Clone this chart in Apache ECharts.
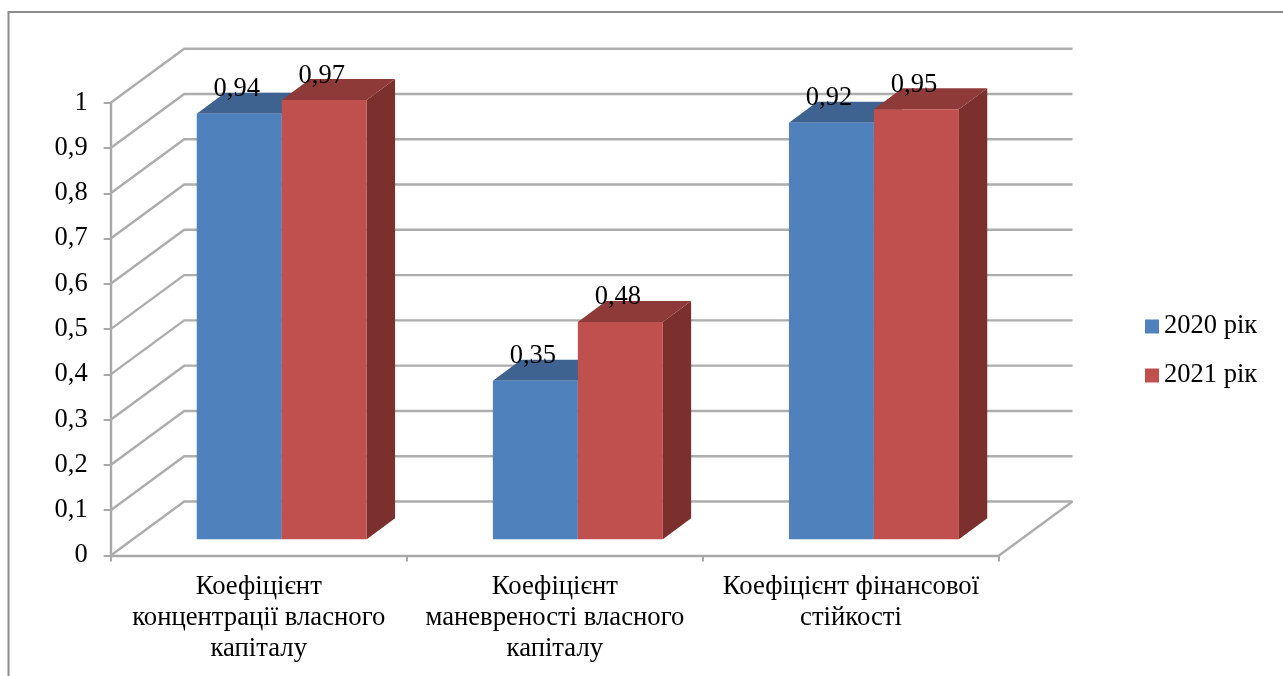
<!DOCTYPE html>
<html>
<head>
<meta charset="utf-8">
<style>html,body{margin:0;padding:0;background:#fff;overflow:hidden}#c{width:1283px;height:676px}</style>
<script src="https://cdn.jsdelivr.net/npm/echarts@6/dist/echarts.min.js"></script>
</head>
<body>
<div id="c"></div>
<script>
const categories = ['Коефіцієнт\nконцентрації власного\nкапіталу', 'Коефіцієнт\nманевреності власного\nкапіталу', 'Коефіцієнт фінансової\nстійкості'];
const seriesNames = ['2020 рік', '2021 рік'];
const values2020 = [0.94, 0.35, 0.92];
const values2021 = [0.97, 0.48, 0.95];
const wallTicks = [0, 0.1, 0.2, 0.3, 0.4, 0.5, 0.6, 0.7, 0.8, 0.9, 1];

const FONT = '"Liberation Serif","Times New Roman",serif';
const FS = 26.5;
const TEXT = '#000000';
const GRID = '#adadad';
const AXIS = '#a8a8a8';
const DEPTH_X = 73.5, DEPTH_Y = 54;
const BAR_DX = 23, BAR_DY = 16.2, BAR_W = 85, BAR_SIDE_X = 28.3, BAR_SIDE_Y = 21;
const comma = v => String(v).replace('.', ',');

function renderWall(params, api) {
  const r = params.coordSys;
  const y = api.coord([0, api.value(1)])[1];
  const left = r.x, right = r.x + r.width;
  const children = [{
    type: 'polyline',
    shape: { points: [[left, y], [left + DEPTH_X, y - DEPTH_Y], [right + DEPTH_X, y - DEPTH_Y]] },
    style: { stroke: GRID, lineWidth: 2.4, fill: null }
  }];
  if (api.value(1) === 0) {
    children.push({
      type: 'line',
      shape: { x1: right, y1: y, x2: right + DEPTH_X, y2: y - DEPTH_Y },
      style: { stroke: GRID, lineWidth: 2.4 }
    });
  }
  return { type: 'group', children };
}

function makeBarRenderer(slot, front, top, side) {
  return function (params, api) {
    const p = api.coord([api.value(0), api.value(1)]);
    const base = api.coord([api.value(0), 0]);
    const x0 = p[0] + BAR_DX + (slot - 1) * BAR_W;
    const x1 = x0 + BAR_W;
    const yt = p[1] - BAR_DY, yb = base[1] - BAR_DY;
    return {
      type: 'group',
      children: [
        { type: 'polygon', shape: { points: [[x1, yt], [x1 + BAR_SIDE_X, yt - BAR_SIDE_Y], [x1 + BAR_SIDE_X, yb - BAR_SIDE_Y], [x1, yb]] }, style: { fill: side } },
        { type: 'polygon', shape: { points: [[x0, yt], [x0 + BAR_SIDE_X, yt - BAR_SIDE_Y], [x1 + BAR_SIDE_X, yt - BAR_SIDE_Y], [x1, yt]] }, style: { fill: top } },
        { type: 'rect', shape: { x: x0, y: yt, width: BAR_W, height: yb - yt }, style: { fill: front } },
        { type: 'text', z2: 100, style: { text: comma(api.value(1)), x: (x0 + x1) / 2 - 2.5, y: yt - 24.5, align: 'center', verticalAlign: 'middle', fill: TEXT, font: FS + 'px ' + FONT } }
      ]
    };
  };
}

const chart = echarts.init(document.getElementById('c'), null, { renderer: 'canvas', width: 1283, height: 676 });
chart.setOption({
  animation: false,
  backgroundColor: '#ffffff',
  graphic: [{
    type: 'polyline', silent: true, z: -1,
    shape: { points: [[8.5, 676], [8.5, 12], [1283, 12]] },
    style: { stroke: '#8c8c8c', lineWidth: 2, fill: null }
  }],
  grid: { left: 110.7, top: 102.7, width: 888.3, height: 452.8, containLabel: false },
  legend: {
    orient: 'vertical', left: 1140, top: 305, icon: 'rect',
    itemWidth: 14, itemHeight: 14, itemGap: 16,
    data: seriesNames,
    textStyle: { fontFamily: FONT, fontSize: FS, color: TEXT, lineHeight: 30, padding: [3, 0, 0, 0] },
    formatter: n => n
  },
  xAxis: {
    type: 'category', data: categories,
    axisLine: { lineStyle: { color: AXIS, width: 2.4 } },
    axisTick: { show: true, alignWithLabel: false, length: 6, lineStyle: { color: AXIS, width: 2 } },
    axisLabel: { interval: 0, margin: 16, fontFamily: FONT, fontSize: 26.7, color: TEXT, lineHeight: 31, align: 'center', verticalAlign: 'top' }
  },
  yAxis: {
    type: 'value', min: 0, max: 1, interval: 0.1,
    splitLine: { show: false },
    axisLine: { show: true, lineStyle: { color: AXIS, width: 2.4 } },
    axisTick: { show: true, length: 7, lineStyle: { color: AXIS, width: 2 } },
    axisLabel: { margin: 23, fontFamily: FONT, fontSize: FS, color: TEXT, padding: [3, 0, 0, 0], formatter: comma }
  },
  series: [
    { name: 'walls', type: 'custom', coordinateSystem: 'cartesian2d', clip: false, silent: true, z: 1,
      renderItem: renderWall, data: wallTicks.map(v => [0, v]) },
    { name: seriesNames[0], type: 'custom', coordinateSystem: 'cartesian2d', clip: false, z: 2,
      itemStyle: { color: '#4F81BD' },
      renderItem: makeBarRenderer(0, '#4F81BD', '#3F6391', '#375a80'),
      data: values2020.map((v, i) => [i, v]) },
    { name: seriesNames[1], type: 'custom', coordinateSystem: 'cartesian2d', clip: false, z: 3,
      itemStyle: { color: '#C0504D' },
      renderItem: makeBarRenderer(1, '#C0504D', '#8E3A38', '#7B302E'),
      data: values2021.map((v, i) => [i, v]) }
  ]
});
</script>
</body>
</html>
